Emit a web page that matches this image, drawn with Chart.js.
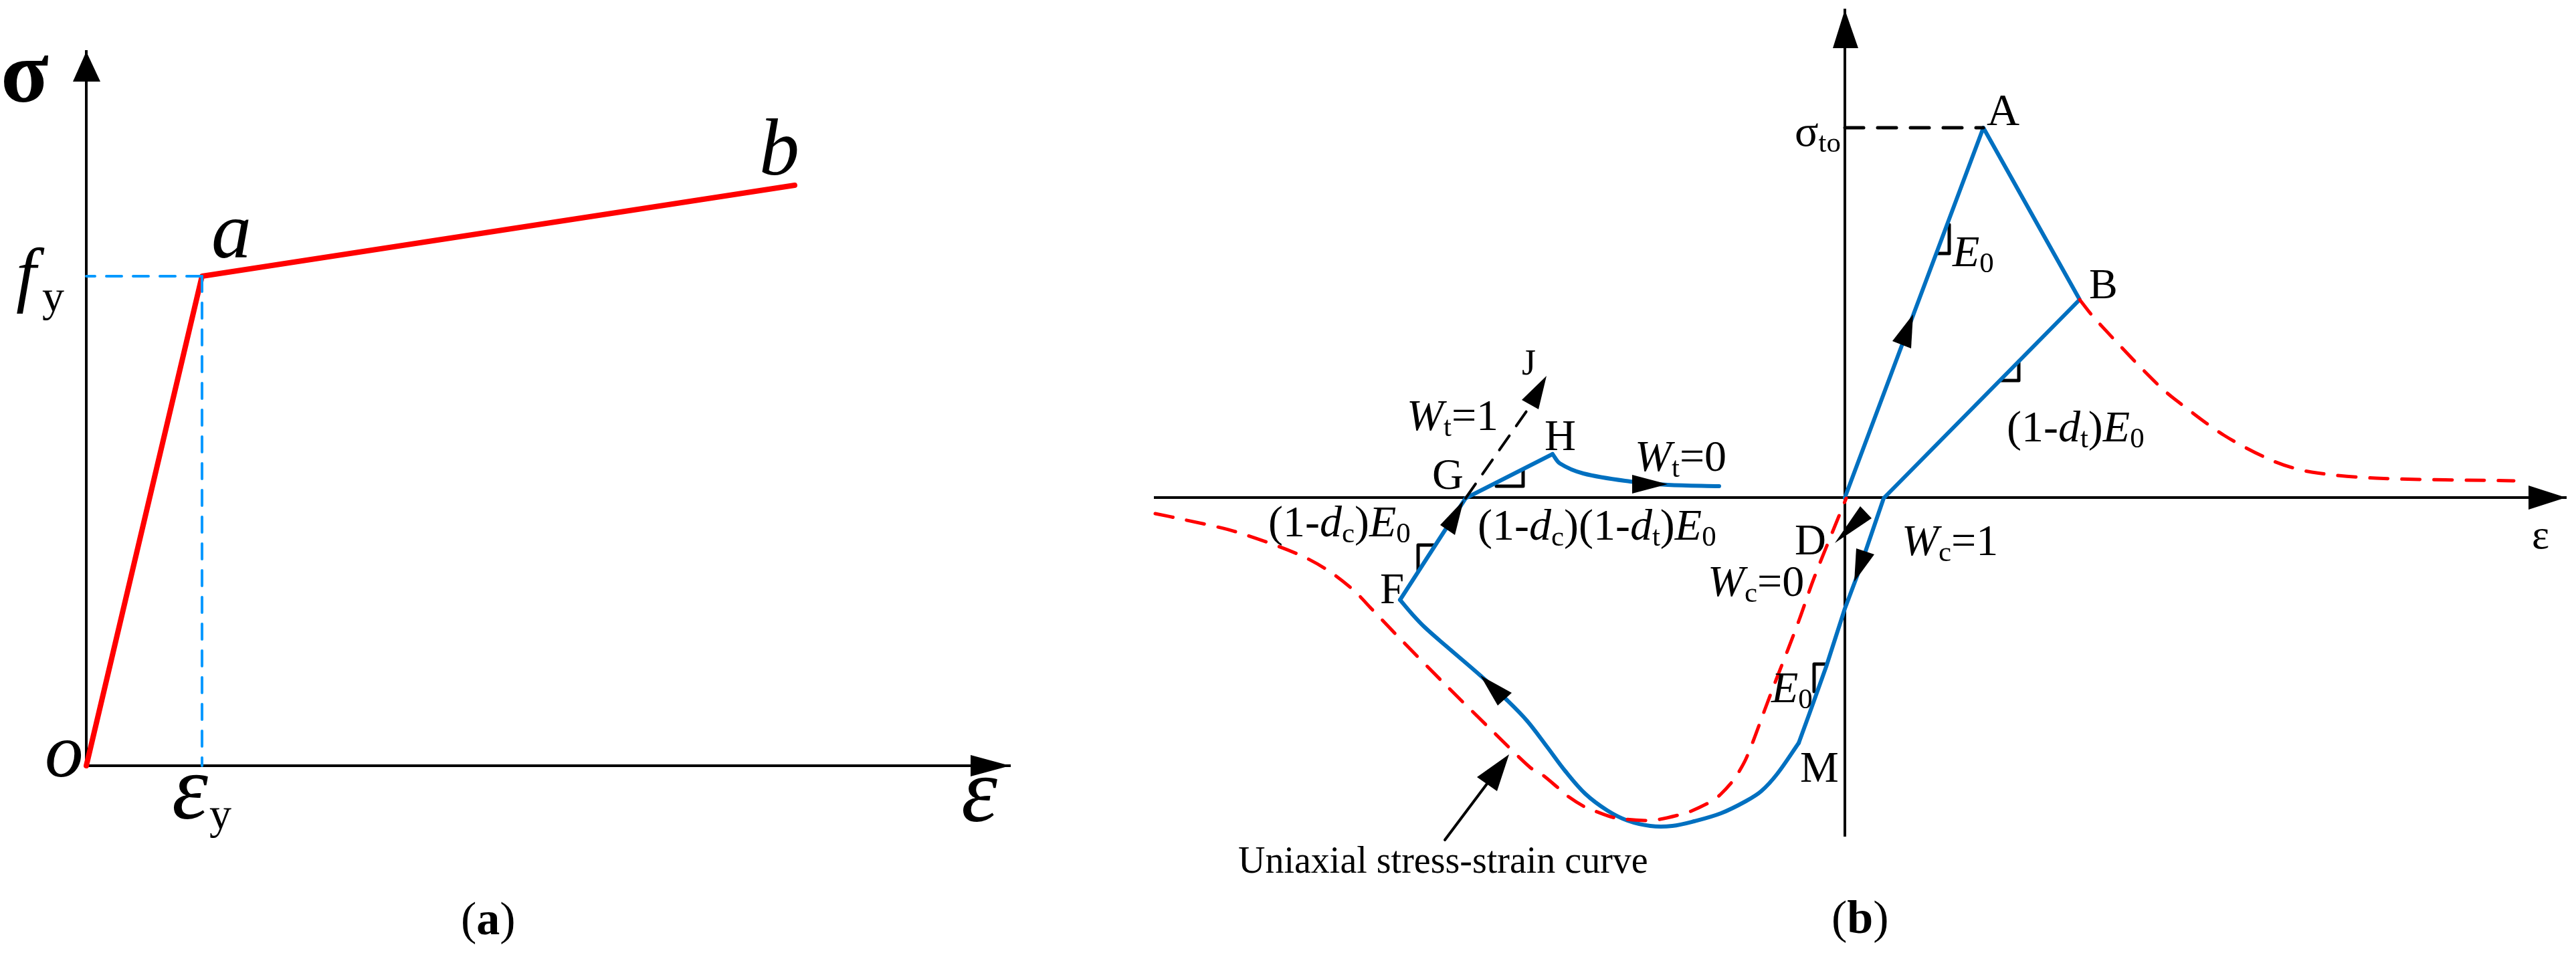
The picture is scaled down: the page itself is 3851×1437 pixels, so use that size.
<!DOCTYPE html>
<html>
<head>
    <title>Steel and concrete stress-strain curves</title>
    <style>
        html, body {margin: 0; padding: 0; background: #fff; overflow: hidden;}
        canvas {position: absolute; top: 0;}
        #chartA {left: 0;}
        #chartB {left: 1700px;}
    </style>
    <script src="https://cdn.jsdelivr.net/npm/chart.js"></script>
</head>
<body>
    <canvas id="chartA" width="1650" height="1437"></canvas>
    <canvas id="chartB" width="2151" height="1437"></canvas>

<script>
    // all values are read off the picture, origin of each panel at 0,0
    // panel a
    var steelX = [0, 173, 1059];
    var steelY = [0, 732, 868];
    var yieldHX = [173, 0];
    var yieldHY = [732, 732];
    var yieldVX = [173, 173];
    var yieldVY = [732, 0];
    var arrowsAX = [[0, -20, 21], [1381, 1322, 1322]];
    var arrowsAY = [[1068, 1023, 1023], [0, 16, -16]];

    var textsA = ['#σ#', '*f', 'y', '*a', '*b', '*o', '*ε', 'y', '*ε', '(#a#)'];
    var textXA = [-128, -105, -66, 187, 1006, -62, 128, 184, 1308, 560];
    var textYA = [993, 699, 680, 760, 884, -16, -79, -94, -83, -252];
    var sizesA = [132, 108, 66, 120, 120, 115, 137, 66, 137, 70];

    // panel b
    var elasticX = [0, 207, 351, 58, 18, 0, -28, -53, -69];
    var elasticY = [0, 553, 296, -1, -118, -166, -253, -323, -367];
    var crushX = [-69, -101, -125, -148, -185, -225, -258, -291, -325, -355, -388, -418, -445, -475, -505, -545, -595, -628, -648, -665];
    var crushY = [-367, -413, -439, -454, -472, -484, -491, -491, -483, -468, -443, -409, -373, -334, -303, -266, -223, -194, -173, -153];
    var reloadX = [-665, -567, -437];
    var reloadY = [-153, -1, 65];
    var softenX = [-437, -426, -391, -321, -265, -188];
    var softenY = [65, 51, 36, 24, 19, 17];
    var uniTensionX = [351, 369, 402, 436, 471, 492, 567, 642, 698, 794, 1000];
    var uniTensionY = [296, 273, 237, 201, 166, 148, 93, 54, 38, 29, 25];
    var uniCompX = [-1031, -988, -911, -819, -774, -735, -708, -663, -595, -525, -470, -453, -430, -415, -390, -373, -343, -295, -276, -246, -230, -201, -186, -166, -156, -148, -137, -120, -103, -85, -68, -46, -9, 2];
    var uniCompY = [-24, -33, -51, -84, -108, -138, -166, -213, -282, -351, -404, -414, -433, -446, -462, -469, -479, -483, -481, -474, -469, -455, -444, -422, -406, -391, -364, -318, -273, -227, -182, -120, -28, -1];
    var sigmaToX = [0, 207];
    var sigmaToY = [553, 553];
    var jLineX = [-567, -469];
    var jLineY = [-1, 139];
    var pointerX = [-535, -598];
    var pointerY = [-428, -512];

    var arrowsBX = [
        [0, -18, 20], [1078, 1022, 1022], [102, 71, 99], [-446, -483, -458],
        [-570, -605, -583], [-265, -318, -318], [-15, 23, 40], [14, 17, 44],
        [-545, -498, -519], [-502, -550, -520]
    ];
    var arrowsBY = [
        [729.5, 672, 672], [0, 18, -18], [274, 234, 223], [182, 146, 132],
        [-4, -41, -56], [20, 34, 6], [-68, -13, -31], [-126, -76, -85],
        [-266, -292, -311], [-384, -418, -439]
    ];
    var slopeMarksX = [[156, 156, 138], [260, 260, 233], [-615, -638, -638], [-481, -481, -521], [-30, -46, -46]];
    var slopeMarksY = [[408, 365, 365], [204, 175, 175], [-71, -71, -109], [41, 17, 17], [-249, -249, -290]];

    var textsB = ['σ~to', 'A', 'B', '*E*~0', '(1-*d*~t~)*E*~0', 'J', '*W*~t~=1', 'H', 'G', '*W*~t~=0',
        '(1-*d*~c~)*E*~0', '(1-*d*~c~)(1-*d*~t~)*E*~0', 'F', 'D', '*W*~c~=0', '*W*~c~=1', 'ε', '*E*~0', 'M',
        'Uniaxial stress-strain curve', '(#b#)'];
    var textXB = [-75, 212, 365, 161, 242, -483, -655, -449, -617, -314, -862, -549, -695, -75, -205, 85, 1027, -110, -67, -907, -20];
    var textYB = [526, 557, 298, 346, 84, 184, 101, 71, 13, 40, -58, -63, -158, -85, -147, -86, -76, -306, -425, -561, -651];
    var sizesB = [66, 68, 64, 66, 66, 54, 66, 65, 65, 66, 66, 66, 65, 65, 66, 66, 62, 66, 65, 56, 70];

    var BLUE = '#0070C0', RED = '#FF0000', LIGHT = '#0099FF';

    function pts(xs, ys) {
        return xs.map(function(x, i) { return {x: x, y: ys[i]}; });
    }

    function line(xs, ys, color, width, dash, tension) {
        return {
            data: pts(xs, ys),
            showLine: true,
            borderColor: color,
            borderWidth: width,
            borderDash: dash || [],
            borderCapStyle: 'round',
            borderJoinStyle: 'round',
            tension: tension || 0,
            pointRadius: 0,
            fill: false,
            clip: false
        };
    }

    // labels: * toggles italic, # bold, ~ subscript
    function drawText(ctx, str, px, py, size) {
        var italic = false, bold = false, sub = false;
        var x = px;
        str.split(/([*#~])/).forEach(function(part) {
            if (part === '*') { italic = !italic; return; }
            if (part === '#') { bold = !bold; return; }
            if (part === '~') { sub = !sub; return; }
            if (!part) return;
            var s = sub ? size * 0.65 : size;
            ctx.font = (italic ? 'italic ' : '') + (bold ? 'bold ' : '') + s + 'px "Liberation Serif"';
            ctx.fillText(part, x, py + (sub ? size * 0.14 : 0));
            x += ctx.measureText(part).width;
        });
    }

    // arrow heads and labels sit partly outside the chart area, so they are drawn here
    function extrasPlugin(arrowXs, arrowYs, texts, xs, ys, sizes) {
        return {
            id: 'panelExtras',
            afterDatasetsDraw: function(chart) {
                var ctx = chart.ctx, sx = chart.scales.x, sy = chart.scales.y;
                ctx.save();
                ctx.fillStyle = '#000';
                arrowXs.forEach(function(ax, i) {
                    ctx.beginPath();
                    ax.forEach(function(v, j) {
                        ctx.lineTo(sx.getPixelForValue(v), sy.getPixelForValue(arrowYs[i][j]));
                    });
                    ctx.closePath();
                    ctx.fill();
                });
                ctx.textBaseline = 'alphabetic';
                texts.forEach(function(t, i) {
                    drawText(ctx, t, sx.getPixelForValue(xs[i]), sy.getPixelForValue(ys[i]), sizes[i]);
                });
                ctx.restore();
            }
        };
    }

    function axis(min, max, pos) {
        return {
            type: 'linear',
            min: min,
            max: max,
            position: pos,
            grid: {display: false, drawTicks: false},
            border: {display: true, color: '#000', width: 4},
            ticks: {display: false}
        };
    }

    function makeChart(id, datasets, xRange, yRange, padding, plugin) {
        return new Chart(document.getElementById(id), {
            type: 'scatter',
            data: {datasets: datasets},
            options: {
                responsive: false,
                animation: false,
                devicePixelRatio: 1,
                events: [],
                layout: {padding: padding},
                plugins: {legend: {display: false}, tooltip: {enabled: false}},
                scales: {
                    x: axis(xRange[0], xRange[1], {y: 0}),
                    y: axis(yRange[0], yRange[1], {x: 0})
                }
            },
            plugins: [plugin]
        });
    }

    makeChart('chartA', [
        line(yieldHX, yieldHY, LIGHT, 4, [23, 17]),
        line(yieldVX, yieldVY, LIGHT, 4, [23, 17]),
        line(steelX, steelY, RED, 8)
    ], [0, 1381], [0, 1068], {left: 129, right: 140, top: 77, bottom: 292},
        extrasPlugin(arrowsAX, arrowsAY, textsA, textXA, textYA, sizesA));

    var datasetsB = [
        line(uniTensionX, uniTensionY, RED, 5, [27, 21], 0.3),
        line(uniCompX, uniCompY, RED, 5, [27, 21], 0.3),
        line(sigmaToX, sigmaToY, '#000', 5, [28, 21]),
        line(jLineX, jLineY, '#000', 4, [26, 18]),
        line(pointerX, pointerY, '#000', 4),
        line(elasticX, elasticY, BLUE, 6),
        line(crushX, crushY, BLUE, 6, null, 0.35),
        line(reloadX, reloadY, BLUE, 6),
        line(softenX, softenY, BLUE, 6, null, 0.35)
    ];
    slopeMarksX.forEach(function(xs, i) {
        datasetsB.push(line(xs, slopeMarksY[i], '#000', 5));
    });

    makeChart('chartB', datasetsB, [-1031, 1078], [-506, 729.5], {left: 27, right: 15, top: 14.5, bottom: 187},
        extrasPlugin(arrowsBX, arrowsBY, textsB, textXB, textYB, sizesB));
</script>
</body>
</html>
